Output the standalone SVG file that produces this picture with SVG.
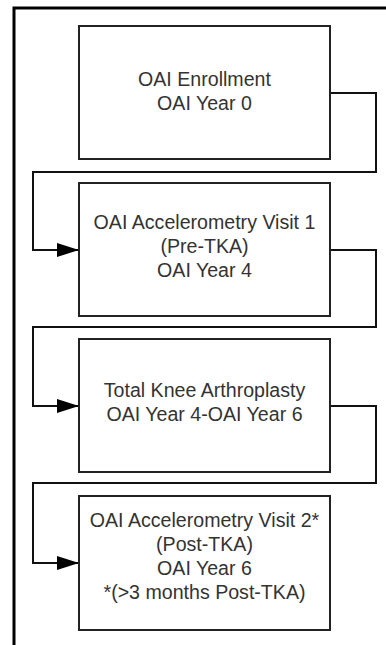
<svg xmlns="http://www.w3.org/2000/svg" width="386" height="645" viewBox="0 0 386 645">
<style>
.box{fill:#fff;stroke:#222;stroke-width:2}
.lbl{font-family:"Liberation Sans",Arial,sans-serif;font-size:19.6px;fill:#333;text-anchor:middle}
.conn{fill:none;stroke:#111;stroke-width:2}
.frame{stroke:#000;stroke-width:3;fill:none}
</style>
<defs>
<marker id="arr" markerWidth="22" markerHeight="14" refX="21" refY="7" orient="auto" markerUnits="userSpaceOnUse">
<path d="M0,0 L22,7 L0,14 Z" fill="#000"/>
</marker>
</defs>
<rect width="386" height="645" fill="#fff"/>
<path class="frame" d="M14,645 V8 H386"/>
<g id="connectors">
<path class="conn" marker-end="url(#arr)" d="M330,93 H376 V172 H33 V250 H78"/>
<path class="conn" marker-end="url(#arr)" d="M330,250 H376 V327 H33 V406 H78"/>
<path class="conn" marker-end="url(#arr)" d="M330,406 H376 V483 H33 V563 H78"/>
</g>
<g id="n1">
<rect class="box" x="79" y="26" width="251" height="133"/>
<text class="lbl" x="204.5" y="86">OAI Enrollment</text>
<text class="lbl" x="204.5" y="110">OAI Year 0</text>
</g>
<g id="n2">
<rect class="box" x="79" y="183" width="251" height="133"/>
<text class="lbl" x="204.5" y="229">OAI Accelerometry Visit 1</text>
<text class="lbl" x="204.5" y="253">(Pre-TKA)</text>
<text class="lbl" x="204.5" y="277">OAI Year 4</text>
</g>
<g id="n3">
<rect class="box" x="79" y="339" width="251" height="133"/>
<text class="lbl" x="204.5" y="397">Total Knee Arthroplasty</text>
<text class="lbl" x="204.5" y="421">OAI Year 4-OAI Year 6</text>
</g>
<g id="n4">
<rect class="box" x="79" y="496" width="251" height="134"/>
<text class="lbl" x="204.5" y="527">OAI Accelerometry Visit 2*</text>
<text class="lbl" x="204.5" y="551">(Post-TKA)</text>
<text class="lbl" x="204.5" y="575">OAI Year 6</text>
<text class="lbl" x="204.5" y="599">*(&gt;3 months Post-TKA)</text>
</g>
</svg>
